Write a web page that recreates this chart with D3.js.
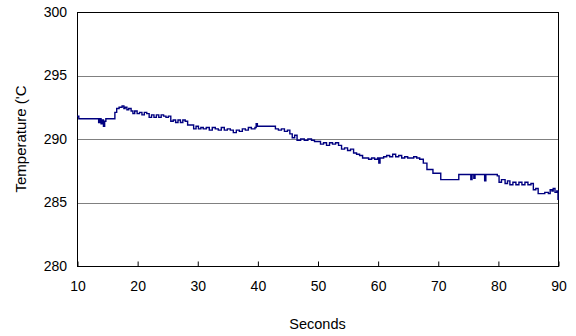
<!DOCTYPE html>
<html><head><meta charset="utf-8">
<script src="https://cdn.jsdelivr.net/npm/d3@7"></script>
<style>body{margin:0;background:#fff}svg{display:block}text{font-family:"Liberation Sans",Arial,sans-serif;fill:#000}</style>
</head><body>
<script>
const seconds = [10.0,10.3,11.0,12.0,13.0,13.4,13.6,13.8,14.0,14.2,14.4,14.6,14.8,15.5,16.0,16.3,16.6,17.0,17.5,17.8,18.0,18.3,18.6,19.0,19.3,19.6,20.0,20.4,20.8,21.2,21.6,22.0,22.4,22.8,23.2,23.6,24.0,24.4,24.8,25.2,25.6,26.0,26.4,26.8,27.2,27.6,28.0,28.4,29.0,29.4,29.8,30.2,30.6,31.0,31.5,32.0,32.5,33.0,33.5,34.0,34.5,35.0,35.5,36.0,36.5,37.0,37.5,38.0,38.5,39.0,39.6,39.8,40.0,41.0,42.0,42.6,43.0,43.5,44.0,44.5,45.0,45.4,45.8,46.2,46.6,47.2,47.8,48.4,49.0,49.5,50.0,50.5,51.0,51.5,52.0,52.5,53.0,53.5,54.0,54.5,55.0,55.5,56.0,56.5,57.0,57.5,58.0,58.5,59.0,59.5,60.0,60.2,60.4,61.0,61.5,62.0,62.5,63.0,63.5,64.0,64.5,65.0,65.5,66.0,66.5,67.0,67.6,68.2,69.2,70.5,71.0,72.0,73.0,73.5,74.0,75.0,75.5,75.7,76.0,76.2,77.0,77.8,78.0,79.0,79.9,80.2,80.6,81.2,81.6,82.0,82.5,83.0,83.5,84.0,84.5,85.0,85.5,85.9,86.3,86.7,87.2,87.8,88.4,88.7,89.0,89.2,89.5,89.8,90.0];
const temperature = [291.8,291.6,291.6,291.6,291.6,291.6,291.3,291.6,291.2,291.5,291.0,291.4,291.6,291.6,291.6,292.1,292.4,292.5,292.6,292.4,292.5,292.3,292.4,292.2,292.0,292.2,292.0,292.1,291.9,292.1,292.0,291.7,291.9,291.7,291.9,291.7,291.9,291.8,291.7,291.8,291.4,291.5,291.3,291.5,291.3,291.5,291.4,291.1,291.1,290.8,291.0,290.8,290.9,290.8,290.9,290.7,290.9,290.8,290.7,290.9,290.7,290.8,290.7,290.5,290.7,290.6,290.8,290.7,290.9,290.8,290.9,291.2,291.0,291.0,291.0,291.0,290.8,290.7,290.8,290.6,290.7,290.4,290.1,290.3,289.9,290.0,289.9,290.0,289.9,289.8,289.8,289.6,289.7,289.5,289.7,289.6,289.7,289.5,289.2,289.3,289.1,289.2,288.9,288.8,288.7,288.5,288.5,288.4,288.5,288.4,288.5,288.1,288.5,288.6,288.7,288.6,288.8,288.6,288.7,288.5,288.6,288.5,288.5,288.6,288.5,288.4,288.1,287.6,287.3,286.8,286.8,286.8,286.8,287.2,287.2,287.2,286.8,287.2,286.9,287.2,287.2,286.7,287.2,287.2,287.1,286.6,286.8,286.5,286.7,286.4,286.6,286.4,286.6,286.4,286.6,286.4,286.5,286.0,286.1,285.7,285.7,285.8,285.7,286.0,285.9,286.1,285.8,285.9,285.2];
const xTicks = [10,20,30,40,50,60,70,80,90];
const yTicks = [280,285,290,295,300];
const xLabel = "Seconds";
const yLabel = "Temperature ('C";

const W = 576, H = 336;
const m = {left:77, right:18, top:12, bottom:70};
const svg = d3.select("body").append("svg").attr("width",W).attr("height",H);
const x = d3.scaleLinear().domain([10,90]).range([m.left, W-m.right]);
const y = d3.scaleLinear().domain([280,300]).range([H-m.bottom, m.top]);

// gridlines
svg.append("g").selectAll("line").data(yTicks.slice(1,-1)).join("line")
  .attr("x1",x(10)).attr("x2",x(90))
  .attr("y1",d=>Math.round(y(d))+0.5).attr("y2",d=>Math.round(y(d))+0.5)
  .attr("stroke","#808080").attr("stroke-width",1.2);

// frame
svg.append("rect").attr("x",x(10)+0.5).attr("y",y(300)+0.5)
  .attr("width",x(90)-x(10)).attr("height",y(280)-y(300))
  .attr("fill","none").attr("stroke","#000").attr("stroke-width",1);

// x axis with inward ticks
const xa = svg.append("g").attr("transform",`translate(0.5,${Math.round(y(280))+0.5})`)
  .call(d3.axisBottom(x).tickValues(xTicks).tickSize(-5).tickPadding(15).tickFormat(d3.format("d")));
xa.select(".domain").remove();
xa.selectAll("line").attr("stroke","#000");
xa.selectAll("text").attr("font-size",14);

// y axis labels
const ya = svg.append("g").attr("transform",`translate(${x(10)},0)`)
  .call(d3.axisLeft(y).tickValues(yTicks).tickSize(0).tickPadding(10).tickFormat(d3.format("d")));
ya.select(".domain").remove();
ya.selectAll("text").attr("font-size",14);

// line
const data = seconds.map((s,i)=>({s, t:temperature[i]}));
svg.append("path").datum(data)
  .attr("fill","none").attr("stroke","#000080").attr("stroke-width",1.4)
  .attr("d", d3.line().x(d=>x(d.s)).y(d=>y(d.t)).curve(d3.curveStepAfter));

svg.append("text").attr("x",(x(10)+x(90))/2).attr("y",329).attr("text-anchor","middle")
  .attr("font-size",14.5).text(xLabel);
svg.append("text").attr("transform",`translate(26,${(y(280)+y(300))/2}) rotate(-90)`)
  .attr("text-anchor","middle").attr("font-size",15).text(yLabel);
</script>
</body></html>
